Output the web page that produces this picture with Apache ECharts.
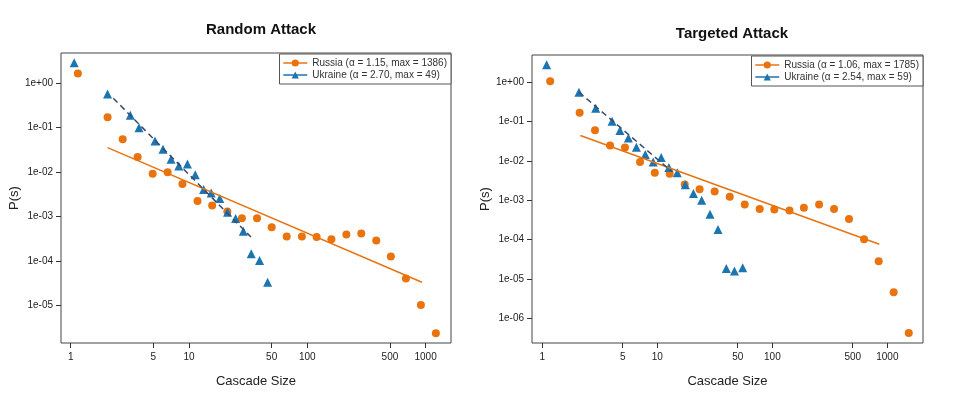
<!DOCTYPE html>
<html>
<head>
<meta charset="utf-8">
<script src="https://cdn.jsdelivr.net/npm/echarts@6/dist/echarts.min.js"></script>
<style>html,body{margin:0;background:#fff}#chart_main{width:960px;height:404px}</style>
</head>
<body>
<div id="chart_main"></div>
<script>
// Random attack
var randRuS = [1.15, 2.05, 2.75, 3.68, 4.93, 6.6, 8.8, 11.8, 15.7, 21.1, 28, 37.6, 50, 67, 90, 120, 160, 214, 286, 383, 509, 682, 913, 1222];
var randRuP = [1.65, 0.172, 0.055, 0.022, 0.0092, 0.010, 0.0054, 0.00226, 0.00178, 0.0013, 0.00092, 0.00092, 0.00058, 0.00036, 0.00036, 0.00035, 0.00031, 0.0004, 0.00042, 0.00029, 0.000128, 0.0000405, 0.0000103, 0.0000024];
var randUaS = [1.07, 2.05, 3.19, 3.78, 5.16, 6.03, 7.05, 8.2, 9.7, 11.3, 13.3, 15.4, 18.2, 21.2, 24.8, 28.8, 33.6, 39.5, 46.2];
var randUaP = [2.9, 0.575, 0.19, 0.1, 0.05, 0.033, 0.0195, 0.0138, 0.0153, 0.0088, 0.0041, 0.0034, 0.00255, 0.00126, 0.00091, 0.00047, 0.000147, 0.000104, 0.0000335];
var randRuFit = [[2.05, 0.0357], [931, 0.0000335]];
var randUaFit = [[2.29, 0.46], [33.4, 0.00035]];
// Targeted attack
var targRuS = [1.17, 2.11, 2.87, 3.88, 5.23, 7.07, 9.5, 12.8, 17.3, 23.3, 31.5, 42.6, 57.5, 77.6, 104, 141, 188, 255, 344, 464, 627, 841, 1135, 1535];
var targRuP = [1.06, 0.166, 0.060, 0.0246, 0.0219, 0.0093, 0.0050, 0.0047, 0.0025, 0.0019, 0.00166, 0.00123, 0.00078, 0.0006, 0.00058, 0.00055, 0.00064, 0.00078, 0.0006, 0.00033, 0.000102, 0.0000282, 0.0000046, 0.00000042];
var targUaS = [1.09, 2.08, 2.91, 4.04, 4.73, 5.6, 6.57, 7.86, 9.2, 10.8, 12.6, 14.9, 17.5, 20.6, 24.3, 28.7, 33.7, 39.8, 46.8, 55.2];
var targUaP = [2.75, 0.557, 0.218, 0.102, 0.059, 0.038, 0.022, 0.0145, 0.0094, 0.0122, 0.0068, 0.0050, 0.00245, 0.00148, 0.001, 0.00044, 0.000179, 0.0000183, 0.0000158, 0.0000191];
var targRuFit = [[2.14, 0.044], [851, 0.000076]];
var targUaFit = [[2.08, 0.557], [13.3, 0.0054]];

var xTicks = [1, 5, 10, 50, 100, 500, 1000];
var randYTicks = [0, -1, -2, -3, -4, -5];
var targYTicks = [0, -1, -2, -3, -4, -5, -6];
var names = ['Russia (\u03b1 = 1.15, max = 1386)', 'Ukraine (\u03b1 = 2.70, max = 49)',
             'Russia (\u03b1 = 1.06, max = 1785)', 'Ukraine (\u03b1 = 2.54, max = 59)'];

var ORANGE = '#e8730f', BLUE = '#1b75b0', DARK = '#3b4a6b';
var L = Math.log10;
function pts(s, p) { return s.map(function (v, i) { return [L(v), L(p[i])]; }); }
function fit(a) { return a.map(function (d) { return [L(d[0]), L(d[1])]; }); }
function ylab(v) { var e = Math.round(v); return '1e' + (e < 0 ? '-' : '+') + ('0' + Math.abs(e)); }

function xAxis(i, min, max) {
    return {
        gridIndex: i, type: 'value', min: min, max: max,
        name: 'Cascade Size', nameLocation: 'middle', nameGap: 32,
        nameTextStyle: { fontSize: 13, color: '#222' },
        axisLine: { show: false, onZero: false }, splitLine: { show: false },
        axisTick: { show: true, inside: false, length: 5, customValues: xTicks.map(L), lineStyle: { color: '#333' } },
        axisLabel: { customValues: xTicks.map(L), fontSize: 10, color: '#222', margin: 9,
            formatter: function (v) { return String(Math.round(Math.pow(10, v))); } }
    };
}
function yAxis(i, min, max, ticks) {
    return {
        gridIndex: i, type: 'value', min: min, max: max,
        name: 'P(s)', nameLocation: 'middle', nameGap: 40, nameRotate: 90,
        nameTextStyle: { fontSize: 13, color: '#222' },
        axisLine: { show: false, onZero: false }, splitLine: { show: false },
        axisTick: { show: true, length: 5, customValues: ticks, lineStyle: { color: '#333' } },
        axisLabel: { customValues: ticks, fontSize: 10, color: '#222', formatter: ylab }
    };
}
function sc(name, i, data, color, sym) {
    return { name: name, type: 'line', xAxisIndex: i, yAxisIndex: i, data: data,
        lineStyle: { opacity: 0, color: color, width: 1.5 }, symbol: sym, symbolSize: sym === 'triangle' ? 9 : 8,
        itemStyle: { color: color }, z: sym === 'triangle' ? 4 : 3 };
}
function ln(i, data, color, type) {
    return { type: 'line', xAxisIndex: i, yAxisIndex: i, data: data, symbol: 'none',
        lineStyle: { color: color, width: 1.5, type: type }, z: 5, silent: true };
}
function legend(right, top, n1, n2) {
    return { right: right, top: top, orient: 'vertical', data: [n1, n2], itemGap: 2,
        itemWidth: 24, itemHeight: 9, backgroundColor: '#fff',
        borderColor: '#555', borderWidth: 1, padding: [4, 4, 4, 3],
        lineStyle: { opacity: 1, width: 1.5 },
        textStyle: { fontSize: 10, color: '#333' } };
}

var myChart = echarts.init(document.getElementById('chart_main'));
var option = {
    animation: false,
    title: [
        { text: 'Random Attack', left: 256, top: 17, textAlign: 'center', textStyle: { fontSize: 15, fontWeight: 'bold', color: '#111' } },
        { text: 'Targeted Attack', left: 727, top: 21, textAlign: 'center', textStyle: { fontSize: 15, fontWeight: 'bold', color: '#111' } }
    ],
    legend: [legend(509, 54, names[0], names[1]), legend(37, 56, names[2], names[3])],
    grid: [
        { left: 61, top: 53, width: 390, height: 290, show: true, borderColor: '#444', borderWidth: 1 },
        { left: 532, top: 55, width: 391, height: 288, show: true, borderColor: '#444', borderWidth: 1 }
    ],
    xAxis: [xAxis(0, -0.082, 3.215), xAxis(1, -0.09, 3.31)],
    yAxis: [yAxis(0, -5.84, 0.68, randYTicks), yAxis(1, -6.63, 0.69, targYTicks)],
    series: [
        sc(names[0], 0, pts(randRuS, randRuP), ORANGE, 'circle'),
        sc(names[1], 0, pts(randUaS, randUaP), BLUE, 'triangle'),
        ln(0, fit(randRuFit), ORANGE, 'solid'),
        ln(0, fit(randUaFit), DARK, [6, 4]),
        sc(names[2], 1, pts(targRuS, targRuP), ORANGE, 'circle'),
        sc(names[3], 1, pts(targUaS, targUaP), BLUE, 'triangle'),
        ln(1, fit(targRuFit), ORANGE, 'solid'),
        ln(1, fit(targUaFit), DARK, [6, 4])
    ]
};
myChart.setOption(option);
</script>
</body>
</html>
